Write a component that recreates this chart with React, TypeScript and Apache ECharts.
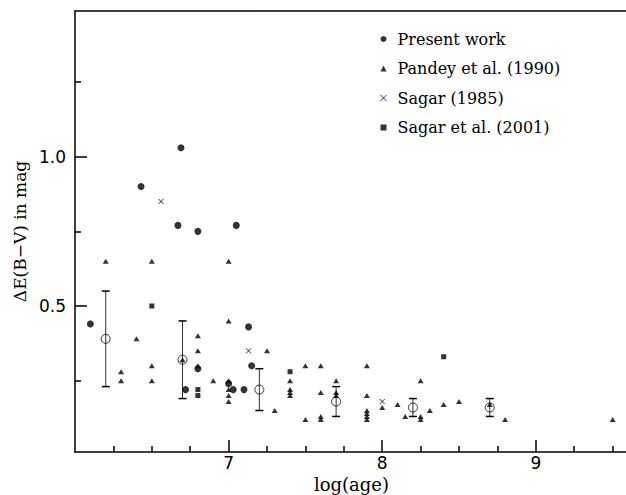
import React, { useEffect, useRef } from "react";
import * as echarts from "echarts";

// Present work (filled circles)
const presentX = [6.10, 6.43, 6.69, 6.67, 6.80, 7.05, 6.72, 6.80, 7.00, 7.03, 7.10, 7.13, 7.15];
const presentY = [0.44, 0.90, 1.03, 0.77, 0.75, 0.77, 0.22, 0.29, 0.24, 0.22, 0.22, 0.43, 0.30];

// Pandey et al. (1990) (filled triangles)
const pandeyX = [6.2, 6.3, 6.3, 6.4, 6.5, 6.5, 6.5, 6.7, 6.8, 6.8, 6.8, 6.9, 7.0, 7.0, 7.0, 7.0, 7.0, 7.0, 7.25, 7.3, 7.4, 7.4, 7.4, 7.4, 7.5, 7.5, 7.6, 7.6, 7.6, 7.6, 7.7, 7.7, 7.7, 7.9, 7.9, 7.9, 7.9, 7.9, 7.9, 8.0, 8.1, 8.15, 8.25, 8.25, 8.25, 8.31, 8.4, 8.5, 8.7, 8.8, 9.5];
const pandeyY = [0.65, 0.28, 0.25, 0.39, 0.65, 0.30, 0.25, 0.32, 0.40, 0.35, 0.30, 0.25, 0.65, 0.45, 0.25, 0.22, 0.20, 0.18, 0.35, 0.15, 0.25, 0.22, 0.21, 0.20, 0.30, 0.12, 0.30, 0.21, 0.13, 0.12, 0.25, 0.21, 0.20, 0.30, 0.20, 0.15, 0.14, 0.13, 0.12, 0.16, 0.17, 0.13, 0.25, 0.13, 0.12, 0.15, 0.17, 0.18, 0.17, 0.12, 0.12];

// Sagar (1985) (crosses)
const sagar85X = [6.56, 7.13, 8.0];
const sagar85Y = [0.85, 0.35, 0.18];

// Sagar et al. (2001) (filled squares)
const sagar01X = [6.5, 6.8, 6.8, 7.4, 8.4];
const sagar01Y = [0.50, 0.22, 0.20, 0.28, 0.33];

// Binned means with error bars (open circles)
const meanX = [6.2, 6.7, 7.2, 7.7, 8.2, 8.7];
const meanY = [0.39, 0.32, 0.22, 0.18, 0.16, 0.16];
const meanErr = [0.16, 0.13, 0.07, 0.05, 0.03, 0.03];

// Axis ticks
const xMajor = [7, 8, 9];
const xMinor = [6.25, 6.5, 6.75, 7.25, 7.5, 7.75, 8.25, 8.5, 8.75, 9.25, 9.5];
const yMajor = [0.5, 1.0];
const yMinor = [0.25, 0.75, 1.25];

const seriesNames = ["Present work", "Pandey et al. (1990)", "Sagar (1985)", "Sagar et al. (2001)"];

const X_MIN = 6;
const X_MAX = 9.6;
const Y_MIN = 0.011;
const Y_MAX = 1.488;

const zip = (xs: number[], ys: number[]) => xs.map((x, i) => [x, ys[i]]);

const crossPath = "path://M0,0L10,10M10,0L0,10";

export default function App() {
  const ref = useRef<HTMLDivElement>(null);

  useEffect(() => {
    if (!ref.current) return;
    const chart = echarts.init(ref.current, null, { renderer: "svg" });
    const black = "#000";
    const baseX = { type: "value", min: X_MIN, max: X_MAX, splitLine: { show: false } };
    const baseY = { type: "value", min: Y_MIN, max: Y_MAX, splitLine: { show: false } };

    const option: any = {
      animation: false,
      grid: { left: 75, right: -2, top: 11, bottom: 43, containLabel: false, outerBoundsMode: "none" },
      legend: {
        orient: "vertical",
        left: 375,
        top: 26,
        itemWidth: 6,
        itemHeight: 6,
        itemGap: 13.5,
        selectedMode: false,
        textStyle: { fontFamily: "DejaVu Serif", fontSize: 16, color: black, padding: [0, 0, 0, 6] },
        data: [
          { name: seriesNames[0], icon: "circle" },
          { name: seriesNames[1], icon: "triangle" },
          { name: seriesNames[2], icon: crossPath, itemStyle: { borderWidth: 1, borderColor: black } },
          { name: seriesNames[3], icon: "rect" },
        ],
      },
      xAxis: [
        {
          ...baseX,
          position: "bottom",
          axisLine: { show: true, lineStyle: { color: black, width: 1.5 } },
          axisTick: { show: true, inside: true, length: 12, customValues: xMajor, lineStyle: { color: black, width: 1.5 } },
          axisLabel: {
            show: true,
            customValues: xMajor,
            margin: 2,
            color: black,
            fontFamily: "DejaVu Sans",
            fontSize: 17,
            formatter: (v: number) => String(Math.round(v)),
          },
          name: "log(age)",
          nameLocation: "middle",
          nameGap: 23,
          nameMoveOverlap: false,
          nameTextStyle: { fontFamily: "DejaVu Serif", fontSize: 18, color: black },
        },
        {
          ...baseX,
          position: "bottom",
          axisLine: { show: false },
          axisTick: { show: true, inside: true, length: 6, customValues: xMinor, lineStyle: { color: black, width: 1.5 } },
          axisLabel: { show: false },
        },
        {
          ...baseX,
          position: "top",
          axisLine: { show: true, lineStyle: { color: black, width: 1.5 } },
          axisTick: { show: false },
          axisLabel: { show: false },
        },
      ],
      yAxis: [
        {
          ...baseY,
          position: "left",
          axisLine: { show: true, lineStyle: { color: black, width: 1.5 } },
          axisTick: { show: true, inside: true, length: 12, customValues: yMajor, lineStyle: { color: black, width: 1.5 } },
          axisLabel: {
            show: true,
            customValues: yMajor,
            margin: 9,
            color: black,
            fontFamily: "DejaVu Sans",
            fontSize: 17,
            formatter: (v: number) => v.toFixed(1),
          },
          name: "\u0394E(B\u2212V) in mag",
          nameLocation: "middle",
          nameGap: 47,
          nameMoveOverlap: false,
          nameTextStyle: { fontFamily: "DejaVu Serif", fontSize: 17, color: black },
        },
        {
          ...baseY,
          position: "left",
          axisLine: { show: false },
          axisTick: { show: true, inside: true, length: 6, customValues: yMinor, lineStyle: { color: black, width: 1.5 } },
          axisLabel: { show: false },
        },
      ],
      series: [
        {
          name: "errbars",
          type: "custom",
          data: meanX.map((x, i) => [x, meanY[i], meanErr[i]]),
          encode: { x: 0, y: 1 },
          silent: true,
          renderItem: (params: any, api: any) => {
            const x = api.value(0);
            const y = api.value(1);
            const e = api.value(2);
            const top = api.coord([x, y + e]);
            const bot = api.coord([x, y - e]);
            const hw = 4;
            return {
              type: "group",
              children: [
                { type: "line", shape: { x1: top[0], y1: top[1], x2: bot[0], y2: bot[1] }, style: { stroke: "#333", lineWidth: 1 } },
                { type: "line", shape: { x1: top[0] - hw, y1: top[1], x2: top[0] + hw, y2: top[1] }, style: { stroke: black, lineWidth: 1.5 } },
                { type: "line", shape: { x1: bot[0] - hw, y1: bot[1], x2: bot[0] + hw, y2: bot[1] }, style: { stroke: black, lineWidth: 1.5 } },
              ],
            };
          },
        },
        {
          name: "means",
          type: "scatter",
          data: zip(meanX, meanY),
          symbol: "circle",
          symbolSize: 9,
          itemStyle: { color: "transparent", borderColor: black, borderWidth: 1 },
          silent: true,
        },
        {
          name: seriesNames[1],
          type: "scatter",
          data: zip(pandeyX, pandeyY),
          symbol: "triangle",
          symbolSize: [6, 5],
          itemStyle: { color: black },
        },
        {
          name: seriesNames[0],
          type: "scatter",
          data: zip(presentX, presentY),
          symbol: "circle",
          symbolSize: 7,
          itemStyle: { color: black },
        },
        {
          name: seriesNames[2],
          type: "scatter",
          data: zip(sagar85X, sagar85Y),
          symbol: crossPath,
          symbolSize: 5,
          itemStyle: { color: black, borderColor: black, borderWidth: 1 },
        },
        {
          name: seriesNames[3],
          type: "scatter",
          data: zip(sagar01X, sagar01Y),
          symbol: "rect",
          symbolSize: 5,
          itemStyle: { color: black },
        },
      ],
    };

    chart.setOption(option);
    return () => chart.dispose();
  }, []);

  return <div ref={ref} style={{ position: "absolute", left: 0, top: 0, width: 626, height: 495 }} />;
}
